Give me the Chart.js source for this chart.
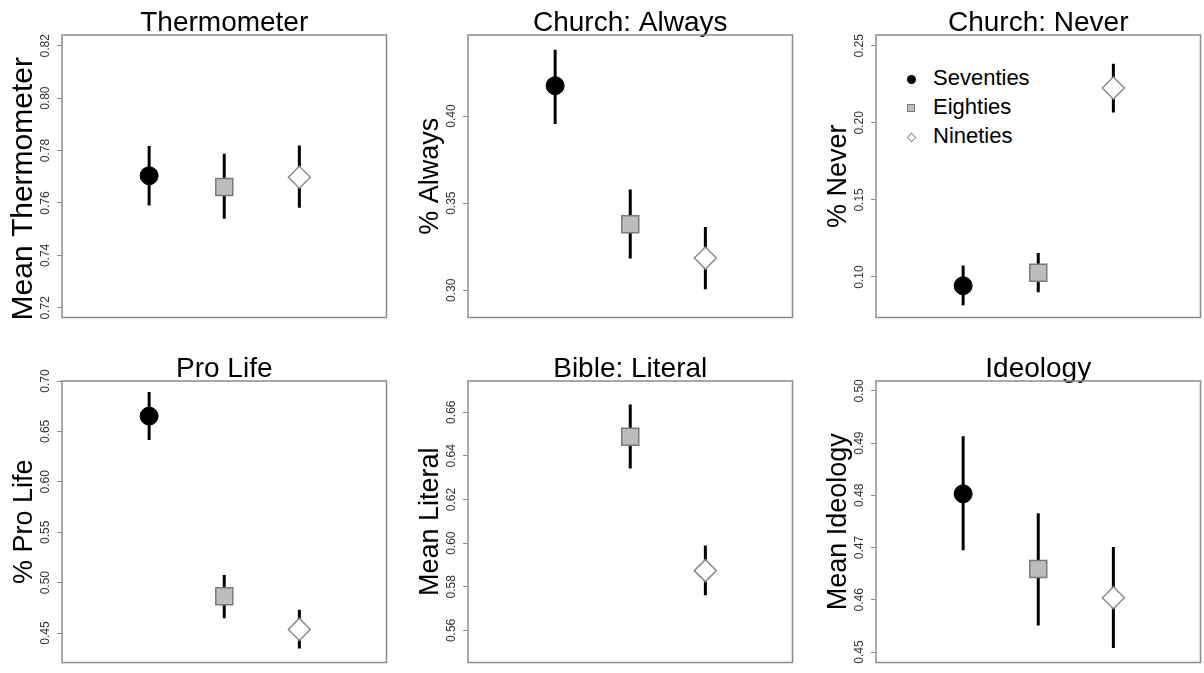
<!DOCTYPE html>
<html>
<head>
<meta charset="utf-8">
<script src="https://cdn.jsdelivr.net/npm/chart.js@4.4.1/dist/chart.umd.min.js"></script>
<style>
html, body { margin: 0; padding: 0; background: #fff; }
body { position: relative; width: 1204px; height: 673px; overflow: hidden; font-family: 'Liberation Sans', Arial, sans-serif; }
canvas { position: absolute; }
#legend { position: absolute; left: 902px; top: 63px; font-size: 22px; line-height: 29px; color: #000; }
#legend div { position: relative; padding-left: 31px; white-space: nowrap; }
.mk { position: absolute; box-sizing: border-box; }
.mk.dot { left: 4.5px; top: 11.5px; width: 9px; height: 9px; border-radius: 50%; background: #000; }
.mk.sq { left: 5px; top: 12px; width: 8px; height: 8px; background: #bdbdbd; border: 1px solid #7a7a7a; }
.mk.dia { left: 5.5px; top: 12.5px; width: 7px; height: 7px; background: #fff; border: 1px solid #8c8c8c; transform: rotate(45deg); }
</style>
</head>
<body>
<div id="legend">
  <div><span class="mk dot"></span>Seventies</div>
  <div><span class="mk sq"></span>Eighties</div>
  <div><span class="mk dia"></span>Nineties</div>
</div>
<script>
const eras = ['Seventies', 'Eighties', 'Nineties'];
const eraX = [1, 2, 3];

// Thermometer
const thermoMean = [0.7704, 0.7661, 0.7698];
const thermoLo = [0.7590, 0.7540, 0.7582];
const thermoHi = [0.7817, 0.7788, 0.7819];
const thermoTicks = [0.72, 0.74, 0.76, 0.78, 0.80, 0.82];
const thermoRange = [0.7163, 0.8241];

// Church: Always
const alwaysMean = [0.4174, 0.3379, 0.3185];
const alwaysLo = [0.3955, 0.3182, 0.3006];
const alwaysHi = [0.4380, 0.3579, 0.3363];
const alwaysTicks = [0.30, 0.35, 0.40];
const alwaysRange = [0.2844, 0.4465];

// Church: Never
const neverMean = [0.0943, 0.1028, 0.2226];
const neverLo = [0.0816, 0.0901, 0.2067];
const neverHi = [0.1074, 0.1155, 0.2384];
const neverTicks = [0.10, 0.15, 0.20, 0.25];
const neverRange = [0.0737, 0.2570];

// Pro Life
const proLifeMean = [0.6652, 0.4864, 0.4536];
const proLifeLo = [0.6416, 0.4647, 0.4348];
const proLifeHi = [0.6890, 0.5075, 0.4731];
const proLifeTicks = [0.45, 0.50, 0.55, 0.60, 0.65, 0.70];
const proLifeRange = [0.4208, 0.7000];

// Bible: Literal (no seventies value)
const literalMean = [null, 0.6488, 0.5874];
const literalLo = [null, 0.6342, 0.5761];
const literalHi = [null, 0.6635, 0.5989];
const literalTicks = [0.56, 0.58, 0.60, 0.62, 0.64, 0.66];
const literalRange = [0.5453, 0.6743];

// Ideology
const ideoMean = [0.4803, 0.4659, 0.4604];
const ideoLo = [0.4695, 0.4551, 0.4508];
const ideoHi = [0.4913, 0.4766, 0.4701];
const ideoTicks = [0.45, 0.46, 0.47, 0.48, 0.49, 0.50];
const ideoRange = [0.4480, 0.5019];

const FONT = "'Liberation Sans', Arial, sans-serif";

const boxPlugin = {
    id: 'box',
    beforeDatasetsDraw(chart) {
        const {ctx, chartArea: a} = chart;
        ctx.save();
        ctx.strokeStyle = '#8c8c8c';
        ctx.lineWidth = 1.5;
        ctx.strokeRect(a.left, a.top, a.right - a.left, a.bottom - a.top);
        ctx.restore();
    }
};

function makePanel(p) {
    const cv = document.createElement('canvas');
    cv.width = 400;
    cv.height = p.h;
    cv.style.left = p.x + 'px';
    cv.style.top = p.y + 'px';
    document.body.appendChild(cv);

    // error bars: one line dataset, broken by null gaps
    const bars = [];
    eraX.forEach((x, i) => {
        bars.push({x: x, y: p.lo[i]}, {x: x, y: p.hi[i]}, {x: x + 0.5, y: null});
    });

    new Chart(cv, {
        type: 'scatter',
        data: {
            datasets: [{
                label: 'mean',
                data: eraX.map((x, i) => ({x: x, y: p.mean[i]})),
                pointStyle: ['circle', 'rect', 'rectRot'],
                pointRadius: [9, 12, 11],
                pointBackgroundColor: ['#000', '#bdbdbd', '#fff'],
                pointBorderColor: ['#000', '#7a7a7a', '#8c8c8c'],
                pointBorderWidth: [1, 1.5, 1.5],
                order: 0
            }, {
                type: 'line',
                label: 'ci',
                data: bars,
                showLine: true,
                spanGaps: false,
                borderColor: '#000',
                borderWidth: 3,
                borderCapStyle: 'butt',
                pointRadius: 0,
                order: 1
            }]
        },
        options: {
            responsive: false,
            animation: false,
            events: [],
            layout: {padding: {left: 0, top: 0, right: 3, bottom: 8}},
            plugins: {
                legend: {display: false},
                tooltip: {enabled: false},
                title: {
                    display: true,
                    text: p.title,
                    fullSize: false,
                    color: '#000',
                    font: {family: FONT, size: 28, weight: 'normal'},
                    padding: {top: 6, bottom: -4.6}
                }
            },
            scales: {
                x: {type: 'linear', display: false, min: -0.16, max: 4.16},
                y: {
                    min: p.range[0],
                    max: p.range[1],
                    afterBuildTicks: s => { s.ticks = p.ticks.map(v => ({value: v})); },
                    afterFit: s => { s.width = 62; },
                    ticks: {
                        minRotation: 90,
                        maxRotation: 90,
                        crossAlign: 'center',
                        padding: 0,
                        color: '#333',
                        font: {family: FONT, size: 12},
                        callback: v => v.toFixed(2)
                    },
                    grid: {drawOnChartArea: false, drawTicks: true, tickLength: 5, color: '#8c8c8c', lineWidth: 1},
                    border: {display: false},
                    title: {
                        display: true,
                        text: p.ylab,
                        color: '#000',
                        font: {family: FONT, size: p.labSize, weight: 'normal'},
                        padding: {top: p.labPad, bottom: 0}
                    }
                }
            }
        },
        plugins: [boxPlugin]
    });
}

const panels = [
    {title: 'Thermometer', ylab: 'Mean Thermometer\u00A0\u00A0\u00A0', labSize: 30, labPad: 6,
     mean: thermoMean, lo: thermoLo, hi: thermoHi, ticks: thermoTicks, range: thermoRange, x: 0, y: 0, h: 331},
    {title: 'Church: Always', ylab: '% Always', labSize: 27, labPad: 8.7,
     mean: alwaysMean, lo: alwaysLo, hi: alwaysHi, ticks: alwaysTicks, range: alwaysRange, x: 406, y: 0, h: 331},
    {title: 'Church: Never', ylab: '% Never', labSize: 27, labPad: 8.7,
     mean: neverMean, lo: neverLo, hi: neverHi, ticks: neverTicks, range: neverRange, x: 814, y: 0, h: 331},
    {title: 'Pro Life', ylab: '% Pro Life', labSize: 27, labPad: 8.7,
     mean: proLifeMean, lo: proLifeLo, hi: proLifeHi, ticks: proLifeTicks, range: proLifeRange, x: 0, y: 346, h: 330},
    {title: 'Bible: Literal', ylab: 'Mean Literal', labSize: 27, labPad: 8.7,
     mean: literalMean, lo: literalLo, hi: literalHi, ticks: literalTicks, range: literalRange, x: 406, y: 346, h: 330},
    {title: 'Ideology', ylab: 'Mean Ideology', labSize: 27, labPad: 8.7,
     mean: ideoMean, lo: ideoLo, hi: ideoHi, ticks: ideoTicks, range: ideoRange, x: 814, y: 346, h: 330}
];

panels.forEach(makePanel);
</script>
</body>
</html>
